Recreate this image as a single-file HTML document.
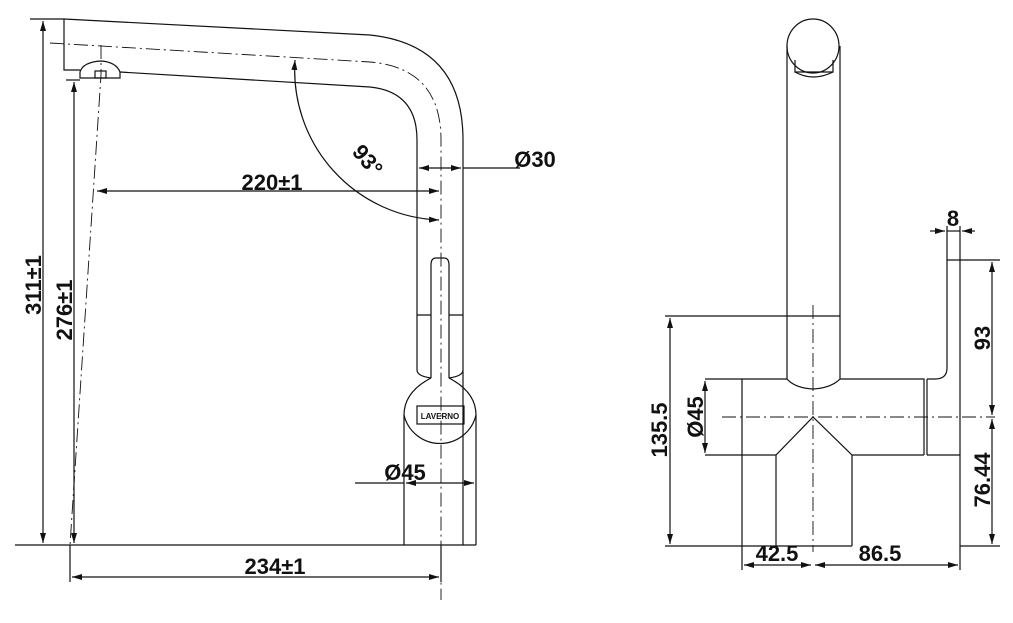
<!DOCTYPE html>
<html><head><meta charset="utf-8"><style>
html,body{margin:0;padding:0;background:#fff;}
svg{display:block}
text{font-family:"Liberation Sans",Arial,sans-serif;font-weight:bold;font-size:22px;fill:#111;}
</style></head><body>
<svg width="1013" height="623" viewBox="0 0 1013 623" xmlns="http://www.w3.org/2000/svg">
<defs>
<marker id="a" viewBox="0 0 10 6" refX="10" refY="3" markerWidth="10" markerHeight="6" orient="auto-start-reverse" markerUnits="userSpaceOnUse"><path d="M0,0 L10,3 L0,6 z" fill="#111"/></marker>
</defs>
<g fill="none" stroke="#111" stroke-width="1.2">
<!-- LEFT VIEW spout -->
<path d="M64,19 L370,35 Q463,45 463,140 L463,545"/>
<path d="M64,19 L64,70 L80,70"/>
<path d="M120,72 L370,87 Q417,92 417,140 L417,370"/>
<path d="M80,72 Q83,62 101,61 Q116,62 120,72 L120,78 L80,78 Z"/>
<rect x="95" y="71" width="11" height="7"/>
<path d="M50,43 L370,62 Q441,68 441,140 L441,600" stroke-dasharray="14,4,2,4" stroke-width="0.9"/>
<path d="M101,45 L101,75 L70,545" stroke-dasharray="14,4,2,4" stroke-width="0.9"/>
<path d="M417,315 L431,315 M449,315 L463,315"/>
<path d="M431,378 L431,265 Q431,258 436,258 L444,258 Q449,258 449,265 L449,378"/>
<path d="M431,378 Q404,392 404,415 L404,545 M449,378 Q476,392 476,415 L476,545"/>
<path d="M417,370 Q417,376 431,378 M463,370 Q463,376 449,378"/>
<path d="M404,415 A37,37 0 0 0 476,415"/>
<rect x="417" y="406" width="47" height="18"/>
<path d="M15,545 L476,545"/>
<path d="M30,19 L64,19"/>
<path d="M43,21 L43,543" marker-start="url(#a)" marker-end="url(#a)"/>
<path d="M66,80 L80,80"/>
<path d="M74,82 L74,543" marker-start="url(#a)" marker-end="url(#a)"/>
<path d="M97,191 L439,191" marker-start="url(#a)" marker-end="url(#a)"/>
<path d="M419,168 L461,168" marker-start="url(#a)" marker-end="url(#a)"/>
<path d="M463,168 L520,168"/>
<path d="M295,60 A150,150 0 0 0 439,220" marker-start="url(#a)" marker-end="url(#a)"/>
<path d="M355,483 L404,483"/>
<path d="M406,483 L474,483" marker-start="url(#a)" marker-end="url(#a)"/>
<path d="M70,545 L70,582 M441,545 L441,582"/>
<path d="M72,577 L439,577" marker-start="url(#a)" marker-end="url(#a)"/>
<!-- RIGHT VIEW -->
<ellipse cx="813" cy="46" rx="26" ry="27"/>
<path d="M787,46 L787,379 Q795,388 813,389 Q831,388 840,379 L840,46"/>
<path d="M795,60 L795,72 L833,72 L833,60"/>
<path d="M795,72 Q813,82 833,72"/>
<path d="M665,316 L840,316"/>
<path d="M742,379 L787,379 M840,379 L924,379 L924,455"/>
<path d="M705,379 L742,379 M705,455 L776,455 L813,417 L852,455 L924,455"/>
<path d="M742,379 L742,546"/>
<path d="M776,455 L776,546 M852,455 L852,546"/>
<path d="M665,546 L852,546"/>
<path d="M927,379 L927,455"/>
<path d="M927,455 L960,455 L960,260 L947,260 L947,368 Q947,379 935,379 L927,379"/>
<path d="M722,417 L995,417" stroke-dasharray="14,4,2,4" stroke-width="0.9"/>
<path d="M813,305 L813,552" stroke-dasharray="14,4,2,4" stroke-width="0.9"/>
<path d="M670,318 L670,544" marker-start="url(#a)" marker-end="url(#a)"/>
<path d="M705,381 L705,453" marker-start="url(#a)" marker-end="url(#a)"/>
<path d="M960,260 L1000,260 M960,455 L960,546 L1000,546"/>
<path d="M992,262 L992,415" marker-start="url(#a)" marker-end="url(#a)"/>
<path d="M992,419 L992,544" marker-start="url(#a)" marker-end="url(#a)"/>
<path d="M947,260 L947,226 M960,260 L960,226"/>
<path d="M930,231 L945,231" marker-end="url(#a)"/>
<path d="M975,231 L962,231" marker-end="url(#a)"/>
<path d="M947,231 L960,231"/>
<path d="M742,546 L742,570 M960,546 L960,570"/>
<path d="M744,565 L811,565" marker-start="url(#a)" marker-end="url(#a)"/>
<path d="M815,565 L958,565" marker-start="url(#a)" marker-end="url(#a)"/>
</g>
<text x="272" y="190" text-anchor="middle">220±1</text>
<text x="535" y="167" text-anchor="middle">Ø30</text>
<text x="368" y="168" text-anchor="middle" transform="rotate(50 368 160)">93°</text>
<text x="41" y="285" text-anchor="middle" transform="rotate(-90 41 285)">311±1</text>
<text x="72" y="310" text-anchor="middle" transform="rotate(-90 72 310)">276±1</text>
<text x="405" y="480" text-anchor="middle">Ø45</text>
<text x="275" y="574" text-anchor="middle">234±1</text>
<text x="440" y="419" text-anchor="middle" style="font-size:8px">LAVERNO</text>
<text x="667" y="430" text-anchor="middle" transform="rotate(-90 667 430)">135.5</text>
<text x="703" y="417" text-anchor="middle" transform="rotate(-90 703 417)">Ø45</text>
<text x="990" y="338" text-anchor="middle" transform="rotate(-90 990 338)">93</text>
<text x="990" y="480" text-anchor="middle" transform="rotate(-90 990 480)">76.44</text>
<text x="953" y="226" text-anchor="middle">8</text>
<text x="777" y="561" text-anchor="middle">42.5</text>
<text x="880" y="561" text-anchor="middle">86.5</text>
</svg>
</body></html>
